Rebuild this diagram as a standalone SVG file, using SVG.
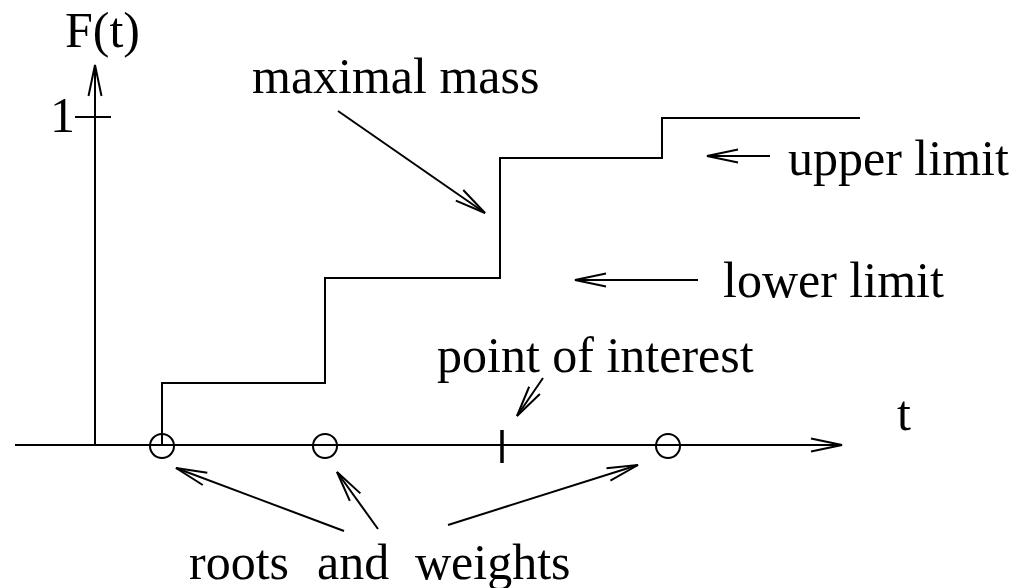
<svg xmlns="http://www.w3.org/2000/svg" width="1019" height="588" viewBox="0 0 1019 588">
<style>
.ln{fill:none;stroke:#000;stroke-width:2}
.arr{fill:none;stroke:#000;stroke-width:2;marker-end:url(#v)}
.lbl{font-family:"Liberation Serif","Times New Roman",serif;font-size:50px;fill:#000}
</style>
<defs>
<marker id="v" markerUnits="userSpaceOnUse" markerWidth="40" markerHeight="20" viewBox="-32 -10 34 20" refX="0" refY="0" orient="auto">
<path d="M-31,-6.5 L0,0 L-31,6.5" fill="none" stroke="#000" stroke-width="2"/>
</marker>
</defs>
<rect width="1019" height="588" fill="#fff"/>
<g id="axes">
<line class="arr" x1="15" y1="445" x2="842" y2="445"/>
<line class="arr" x1="95" y1="445" x2="95" y2="65"/>
<line class="ln" x1="75" y1="117" x2="111" y2="117"/>
<text class="lbl" x="65" y="47">F(t)</text>
<text class="lbl" x="50" y="132">1</text>
<text class="lbl" x="897" y="430">t</text>
</g>
<g id="step-function">
<polyline class="ln" points="162,445 162,383 325,383 325,278 500,278 500,158 662,158 662,118 860,118"/>
</g>
<g id="roots">
<circle class="ln" cx="162" cy="446" r="12"/>
<circle class="ln" cx="325" cy="446" r="12"/>
<circle class="ln" cx="668" cy="446" r="12"/>
</g>
<g id="point-of-interest">
<line x1="502" y1="430" x2="502" y2="463" stroke="#000" stroke-width="3.5"/>
</g>
<g id="labels">
<text class="lbl" x="252" y="93">maximal mass</text>
<text class="lbl" x="788" y="175">upper limit</text>
<text class="lbl" x="723" y="297">lower limit</text>
<text class="lbl" x="437" y="372">point of interest</text>
<text class="lbl" x="189" y="579">roots</text>
<text class="lbl" x="317" y="579">and</text>
<text class="lbl" x="415" y="579">weights</text>
</g>
<g id="connectors">
<line class="arr" x1="338" y1="111" x2="485" y2="213"/>
<line class="arr" x1="770" y1="156" x2="707" y2="156"/>
<line class="arr" x1="698" y1="280" x2="575" y2="280"/>
<line class="arr" x1="543" y1="378" x2="517" y2="416"/>
<line class="arr" x1="344" y1="531" x2="176" y2="468"/>
<line class="arr" x1="378" y1="529" x2="337" y2="472"/>
<line class="arr" x1="448" y1="525" x2="638" y2="465"/>
</g>
</svg>
